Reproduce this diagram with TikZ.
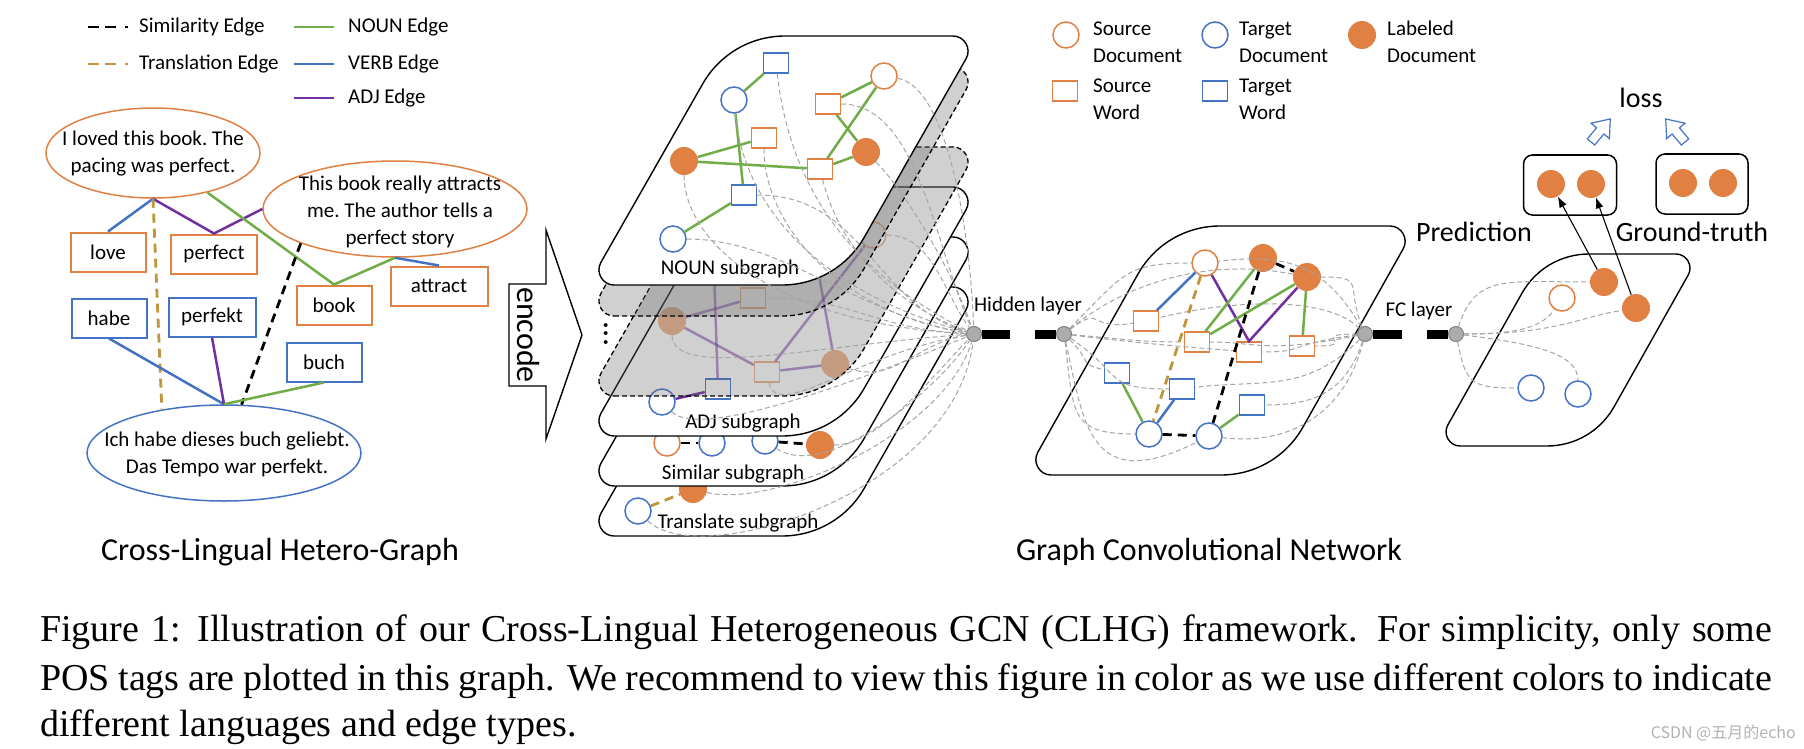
\documentclass[tikz,border=0pt]{standalone}
\usepackage{fontspec}
\setmainfont{Carlito}
\newfontfamily\capfont{Liberation Serif}
\newfontfamily\cjkfont{Noto Sans CJK SC}
\usetikzlibrary{shapes.geometric,arrows.meta,calc}
\definecolor{cor}{RGB}{224,128,66}
\definecolor{cbl}{RGB}{68,114,196}
\definecolor{cgr}{RGB}{112,173,71}
\definecolor{cpu}{RGB}{112,48,160}
\definecolor{cgo}{RGB}{191,150,60}
\definecolor{cgd}{RGB}{165,165,165}
% style, x of bottom-left, y bottom, width, height, shift, obtuse tangent length, acute tangent length
\newcommand\plt[8]{%
 \coordinate (pBL) at (#2,#3);
 \coordinate (pBR) at (#2+#4,#3);
 \coordinate (pTR) at (#2+#4+#6,#3-#5);
 \coordinate (pTL) at (#2+#6,#3-#5);
 \coordinate (a1) at ($(pBL)!#8!(pBR)$);
 \coordinate (a2) at ($(pBR)!#7!(pBL)$);
 \coordinate (a3) at ($(pBR)!#7!(pTR)$);
 \coordinate (a4) at ($(pTR)!#8!(pBR)$);
 \coordinate (a5) at ($(pTR)!#8!(pTL)$);
 \coordinate (a6) at ($(pTL)!#7!(pTR)$);
 \coordinate (a7) at ($(pTL)!#7!(pBL)$);
 \coordinate (a8) at ($(pBL)!#8!(pTL)$);
 \path[#1] (a1) -- (a2) .. controls ($(a2)!0.62!(pBR)$) and ($(a3)!0.62!(pBR)$) .. (a3)
   -- (a4) .. controls ($(a4)!0.44!(pTR)$) and ($(a5)!0.44!(pTR)$) .. (a5)
   -- (a6) .. controls ($(a6)!0.62!(pTL)$) and ($(a7)!0.62!(pTL)$) .. (a7)
   -- (a8) .. controls ($(a8)!0.44!(pBL)$) and ($(a1)!0.44!(pBL)$) .. (a1) -- cycle;}
\tikzset{
 x=1pt, y=-1pt,
 txt/.style={font=\fontsize{21}{27}\selectfont\frenchspacing, inner sep=0pt, align=center},
 big/.style={font=\fontsize{32}{36}\selectfont, inner sep=0pt},
 mid/.style={font=\fontsize{28}{32}\selectfont, inner sep=0pt},
 wbox/.style={draw, line width=2pt, minimum width=75pt, minimum height=39pt, inner sep=0pt, font=\fontsize{21}{25}\selectfont, fill=white},
 sbox/.style={wbox, draw=cor},
 tbox/.style={wbox, draw=cbl},
 ell/.style={ellipse, line width=1.5pt, inner sep=0pt},
 src/.style={circle, draw=cor, line width=1.5pt, fill=white, minimum size=26pt, inner sep=0pt},
 tgt/.style={src, draw=cbl},
 lab/.style={circle, fill=cor, minimum size=28pt, inner sep=0pt},
 sw/.style={rectangle, draw=cor, line width=1.5pt, fill=white, minimum width=25pt, minimum height=20pt, inner sep=0pt},
 tw/.style={sw, draw=cbl},
 eg/.style={cgr, line width=2.5pt},
 eb/.style={cbl, line width=2.5pt},
 ep/.style={cpu, line width=2.5pt},
 esim/.style={black, line width=2.8pt, dash pattern=on 9pt off 6pt},
 etr/.style={cgo, line width=2.8pt, dash pattern=on 9pt off 6pt},
 gd/.style={cgd, line width=1pt, dash pattern=on 5pt off 3pt},
 plate/.style={draw=black, line width=1.4pt, fill=white},
 gplate/.style={draw=black, line width=1.3pt, dash pattern=on 5pt off 3pt, fill=black!60, fill opacity=0.3},
 hn/.style={circle, fill=gray!65, draw=gray, line width=1pt, minimum size=15pt, inner sep=0pt},
 bar/.style={line width=9pt, black},
 fade/.style={opacity=0.6},
}
\begin{document}
\begin{tikzpicture}
\useasboundingbox (0,0) rectangle (1804,749);
\fill[white] (0,0) rectangle (1804,749);

% ---------- left legend ----------
\coordinate (l1a) at (88,27); \coordinate (l1b) at (129,27);
\coordinate (l2a) at (88,64); \coordinate (l2b) at (129,64);
\coordinate (l3a) at (294,27); \coordinate (l3b) at (334,27);
\coordinate (l4a) at (294,64); \coordinate (l4b) at (334,64);
\coordinate (l5a) at (294,98); \coordinate (l5b) at (334,98);
\draw[esim, dash pattern=on 11pt off 6pt on 11pt off 9pt on 3pt off 2pt] (l1a) -- (l1b);
\draw[etr, dash pattern=on 11pt off 6pt on 11pt off 9pt on 3pt off 2pt] (l2a) -- (l2b);
\draw[eg] (l3a) -- (l3b);
\draw[eb] (l4a) -- (l4b);
\draw[ep] (l5a) -- (l5b);
\node[txt, anchor=west] (lt1) at (139,27) {Similarity Edge};
\node[txt, anchor=west] (lt2) at (139,64) {Translation Edge};
\node[txt, anchor=west] (lt3) at (348,27) {NOUN Edge};
\node[txt, anchor=west] (lt4) at (348,64) {VERB Edge};
\node[txt, anchor=west] (lt5) at (348,98) {ADJ Edge};

% ---------- cross-lingual hetero-graph ----------
\node[ell, draw=cor, minimum width=214pt, minimum height=90pt] (e1) at (153,153) {};
\node[ell, draw=cor, minimum width=264pt, minimum height=96pt] (e2) at (395,209) {};
\node[ell, draw=cbl, minimum width=274pt, minimum height=96pt] (e3) at (224,453) {};
\node[sbox] (love) at (108,252) {love};
\node[sbox, minimum width=86pt] (perfect) at (214,254) {perfect};
\node[tbox] (habe) at (109,318) {habe};
\node[tbox, minimum width=87pt] (perfekt) at (212,317) {perfekt};
\node[sbox] (book) at (334,305) {book};
\node[sbox, minimum width=97pt] (attract) at (439,286) {attract};
\node[tbox] (buch) at (324,362) {buch};
\draw[eb] (e1.south) -- (love.north);
\draw[ep] (e1.south) -- (perfect.north) -- (e2.west);
\draw[eg] (e1.-36) -- (book.north) -- (e2.south);
\draw[eb] (e2.south) -- (attract.north);
\draw[etr] (e1.south) -- (e3.145);
\draw[esim] (e2.200) -- (e3.70);
\draw[eb] (habe.south) -- (e3.north);
\draw[ep] (perfekt.south) -- (e3.north);
\draw[eg] (e3.north) -- (buch.south);
\node[txt] (t1) at (153,154) {I loved this book. The\\pacing was perfect.};
\node[txt] (t2) at (400,212) {This book really attracts\\me. The author tells a\\perfect story};
\node[txt] (t3) at (227,454) {Ich habe dieses buch geliebt.\\Das Tempo war perfekt.};
\node[big] (title1) at (280,552) {Cross-Lingual Hetero-Graph};

% ---------- encode arrow ----------
\draw[line width=1.4pt, fill=white] (509,284) -- (546,284) -- (546,230) -- (582,335) -- (546,439) -- (546,386) -- (509,386) -- cycle;
\node[big, rotate=-90] (enc) at (528,335) {encode};

% ---------- stacked subgraphs ----------
% Translate
\plt{plate}{588}{536}{249}{249}{142}{55pt}{26pt}
\node[lab] (tl) at (693,489) {};
\node[tgt] (tc) at (638,511) {};
\draw[etr] (tc) -- (tl);
\node[txt] (tlab) at (738,523) {Translate subgraph};
% Similar
\plt{plate}{588}{486}{249}{249}{142}{55pt}{26pt}
\node[src] (so) at (667,443) {};
\node[tgt] (sc1) at (712,443) {};
\node[tgt] (sc2) at (765,441) {};
\node[lab] (sl) at (820,445) {};
\draw[esim] (so) -- (sc1);
\draw[esim] (sc2) -- (sl);
\node[txt] (slab) at (733,474) {Similar subgraph};
% ADJ
\plt{plate}{588}{436}{249}{249}{142}{55pt}{26pt}
\coordinate (av1) at (714,270);
\coordinate (av2) at (818,270);
\node[lab, fade] (al1) at (672,321) {};
\node[sw, fade] (as1) at (753,298) {};
\node[sw, fade] (as2) at (767,372) {};
\node[lab, fade] (al2) at (835,364) {};
\node[src, fade] (ao1) at (873,235) {};
\node[tw] (ab1) at (718,389) {};
\node[tgt] (ac1) at (662,402) {};
\draw[ep, opacity=0.55] (al1) -- (as1);
\draw[ep, opacity=0.55] (al1) -- (as2);
\draw[ep, opacity=0.55] (as2) -- (al2);
\draw[ep, opacity=0.55] (as2) -- (ao1);
\draw[ep, opacity=0.55] (av1) -- (ab1);
\draw[ep, opacity=0.55] (av2) -- (al2);
\draw[ep] (ac1) -- (ab1);
\node[txt] (alab) at (743,423) {ADJ subgraph};
% gray "..." layers
\plt{gplate}{588}{396}{249}{249}{142}{55pt}{26pt}
\plt{gplate}{588}{316}{249}{249}{142}{55pt}{26pt}
\node[big, rotate=-90] (dots) at (606,334) {...};
% NOUN
\plt{plate}{588}{285}{249}{249}{142}{55pt}{26pt}
\node[tw] (nb1) at (776,63) {};
\node[tgt] (nc1) at (734,100) {};
\node[src] (no1) at (884,76) {};
\node[sw] (ns1) at (828,104) {};
\node[sw] (ns2) at (764,138) {};
\node[lab] (nl1) at (684,161) {};
\node[lab] (nl2) at (866,152) {};
\node[sw] (ns3) at (820,169) {};
\node[tw] (nb2) at (744,195) {};
\node[tgt] (nc2) at (673,239) {};
\draw[eg] (nb1) -- (nc1);
\draw[eg] (nc1) -- (nb2);
\draw[eg] (no1) -- (ns1);
\draw[eg] (no1) -- (ns3);
\draw[eg] (ns1) -- (nl2);
\draw[eg] (nl2) -- (ns3);
\draw[eg] (nl1) -- (ns2);
\draw[eg] (nl1) -- (ns3);
\draw[eg] (nc2) -- (nb2);
\node[txt] (nlab) at (730,269) {NOUN subgraph};

% ---------- hidden layer ----------
\node[hn] (hid) at (974,334) {};
\node[hn] (hid2) at (1064,334) {};
\coordinate (hb1) at (1010,334);
\coordinate (hb2) at (1035,334);
\draw[bar] (hid.east) -- (hb1);
\draw[bar] (hb2) -- (hid2.west);
\node[txt] (hlab) at (1028,306) {Hidden layer};

\draw[gd] (nb1) .. controls +(15,130) and +(-120,-60) .. (hid);
\draw[gd] (nc1) .. controls +(10,110) and +(-150,-40) .. (hid);
\draw[gd] (no1) .. controls +(60,10) and +(-5,-120) .. (hid);
\draw[gd] (ns1) .. controls +(90,0) and +(-40,-90) .. (hid);
\draw[gd] (ns2) .. controls +(0,90) and +(-130,-20) .. (hid);
\draw[gd] (nl1) .. controls +(0,80) and +(-200,-10) .. (hid);
\draw[gd] (nl2) .. controls +(40,40) and +(-20,-60) .. (hid);
\draw[gd] (ns3) .. controls +(20,80) and +(-80,-30) .. (hid);
\draw[gd] (nb2) .. controls +(120,0) and +(-100,-30) .. (hid);
\draw[gd] (nc2) .. controls +(110,0) and +(-120,-20) .. (hid);
\draw[gd] (al1) .. controls +(0,60) and +(-150,10) .. (hid);
\draw[gd] (as1) .. controls +(100,0) and +(-100,-5) .. (hid);
\draw[gd] (al2) .. controls +(60,20) and +(-60,10) .. (hid);
\draw[gd] (ao1) .. controls +(60,0) and +(-30,-40) .. (hid);
\draw[gd] (as2) .. controls +(10,50) and +(-120,20) .. (hid);
\draw[gd] (ac1) .. controls +(40,40) and +(-100,40) .. (hid);
\draw[gd] (sl) .. controls +(60,0) and +(-40,40) .. (hid);
\draw[gd] (sc2) .. controls +(60,40) and +(-40,60) .. (hid);
\draw[gd] (tc) .. controls +(60,60) and +(-20,160) .. (hid);
\draw[gd] (tl) .. controls +(80,20) and +(-30,100) .. (hid);

% ---------- GCN ----------
\plt{plate}{1025}{475}{251}{249}{140}{55pt}{26pt}
\node[src] (go1) at (1205,263) {};
\node[lab] (gl1) at (1263,258) {};
\node[lab] (gl2) at (1307,277) {};
\node[sw] (gs1) at (1146,321) {};
\node[sw] (gs2) at (1197,342) {};
\node[sw] (gs3) at (1249,352) {};
\node[sw] (gs4) at (1302,346) {};
\node[tw] (gb1) at (1117,373) {};
\node[tw] (gb2) at (1182,389) {};
\node[tw] (gb3) at (1252,405) {};
\node[tgt] (gc1) at (1149,434) {};
\node[tgt] (gc2) at (1209,436) {};
\node[hn] (fc1) at (1365,334) {};
\node[hn] (fc2) at (1456,334) {};
\coordinate (fb1) at (1402,334);
\coordinate (fb2) at (1427,334);
\draw[bar] (fc1.east) -- (fb1);
\draw[bar] (fb2) -- (fc2.west);
\node[txt] (fclab) at (1419,311) {FC layer};

\draw[gd] (hid2) .. controls +(60,-60) and +(-80,0) .. (go1);
\draw[gd] (hid2) .. controls +(40,-30) and +(-60,10) .. (gs1);
\draw[gd] (hid2) .. controls +(60,5) and +(-60,0) .. (gs2);
\draw[gd] (hid2) .. controls +(80,10) and +(-60,-5) .. (gs3);
\draw[gd] (hid2) .. controls +(30,30) and +(-40,-10) .. (gb1);
\draw[gd] (hid2) .. controls +(60,40) and +(-80,0) .. (gb2);
\draw[gd] (hid2) .. controls +(10,80) and +(-80,0) .. (gc1);
\draw[gd] (hid2) .. controls +(20,90) and +(-120,60) .. (gc2);
\draw[gd] (hid2) .. controls +(60,-50) and +(-100,-20) .. (gl2);
\draw[gd] (fc1) .. controls +(-20,-50) and +(60,0) .. (gl2);
\draw[gd] (fc1) .. controls +(-40,-70) and +(80,-10) .. (go1);
\draw[gd] (fc1) .. controls +(-60,0) and +(60,0) .. (gs4);
\draw[gd] (fc1) .. controls +(-80,10) and +(60,0) .. (gs3);
\draw[gd] (fc1) .. controls +(-100,20) and +(60,0) .. (gs2);
\draw[gd] (fc1) .. controls +(-20,60) and +(60,0) .. (gb3);
\draw[gd] (fc1) .. controls +(-20,80) and +(80,10) .. (gc2);
\draw[gd] (fc1) .. controls +(-60,60) and +(80,-10) .. (gb2);
\draw[gd] (fc1) .. controls +(-40,-40) and +(80,-20) .. (gs1);

\draw[eb] (go1) -- (gs1);
\draw[etr] (go1) -- (gc1);
\draw[ep] (go1) -- (gs3.north) -- (gl2);
\draw[eg] (gl1) -- (gs2);
\draw[eg] (gl2) -- (gs2);
\draw[eg] (gl2) -- (gs4);
\draw[esim] (gl1) -- (gl2);
\draw[esim] (gl1) -- (gc2);
\draw[esim] (gc1) -- (gc2);
\draw[eg] (gb1) -- (gc1);
\draw[eb] (gc1) -- (gb2);
\draw[eg] (gc2) -- (gb3);
\node[big] (title2) at (1209,552) {Graph Convolutional Network};

% ---------- output ----------
\plt{plate}{1436}{446}{156}{192}{108}{45pt}{24pt}
\node[lab] (ol1) at (1604,282) {};
\node[lab] (ol2) at (1636,308) {};
\node[src] (oo) at (1562,298) {};
\node[tgt] (oc1) at (1531,388) {};
\node[tgt] (oc2) at (1578,394) {};
\draw[gd] (fc2) .. controls +(20,-60) and +(-100,0) .. (ol1);
\draw[gd] (fc2) .. controls +(60,0) and +(-20,30) .. (oo);
\draw[gd] (fc2) .. controls +(100,0) and +(-60,10) .. (ol2);
\draw[gd] (fc2) .. controls +(10,50) and +(-60,0) .. (oc1);
\draw[gd] (fc2) .. controls +(80,10) and +(0,-40) .. (oc2);

\node[draw, line width=1.5pt, rounded corners=9pt, minimum width=93pt, minimum height=60pt] (pbox) at (1570,185) {};
\node[draw, line width=1.5pt, rounded corners=9pt, minimum width=92pt, minimum height=60pt] (gbox) at (1702,184) {};
\node[lab] (pl1) at (1551,184) {};
\node[lab] (pl2) at (1591,184) {};
\node[lab] (gt1) at (1683,183) {};
\node[lab] (gt2) at (1723,183) {};
\draw[line width=1.1pt, -{Latex[length=11pt,width=8pt]}] (ol1) -- (pl1);
\draw[line width=1.1pt, -{Latex[length=11pt,width=8pt]}] (ol2) -- (pl2);
\node[mid] (pred) at (1474,232) {Prediction};
\node[mid] (gtl) at (1692,232) {Ground-truth};
\node[mid] (loss) at (1641,98) {loss};
\begin{scope}[shift={(1601,130)}, rotate=-40, scale=1.2]
\draw[cbl, line width=1.2pt, fill=white] (-4,13) -- (4,13) -- (4,1) -- (10,1) -- (0,-12) -- (-10,1) -- (-4,1) -- cycle;
\end{scope}
\begin{scope}[shift={(1675,130)}, rotate=40, scale=1.2]
\draw[cbl, line width=1.2pt, fill=white] (-4,13) -- (4,13) -- (4,1) -- (10,1) -- (0,-12) -- (-10,1) -- (-4,1) -- cycle;
\end{scope}

% ---------- right legend ----------
\node[src] (lg1) at (1066,35) {};
\node[tgt] (lg2) at (1215,35) {};
\node[lab] (lg3) at (1362,35) {};
\node[sw] (lg4) at (1065,91) {};
\node[tw] (lg5) at (1215,91) {};
\node[txt, anchor=west, align=left] (lgt1) at (1093,42) {Source\\Document};
\node[txt, anchor=west, align=left] (lgt2) at (1239,42) {Target\\Document};
\node[txt, anchor=west, align=left] (lgt3) at (1387,42) {Labeled\\Document};
\node[txt, anchor=west, align=left] (lgt4) at (1093,99) {Source\\Word};
\node[txt, anchor=west, align=left] (lgt5) at (1239,99) {Target\\Word};

% ---------- caption ----------
\node[anchor=base west, inner sep=0pt] (cap1) at (40,641) {\capfont\fontsize{38}{42}\selectfont\makebox[1732pt][s]{Figure 1: Illustration of our Cross-Lingual Heterogeneous GCN (CLHG) framework. For simplicity, only some}};
\node[anchor=base west, inner sep=0pt] (cap2) at (40,690) {\capfont\fontsize{38}{42}\selectfont\makebox[1732pt][s]{POS tags are plotted in this graph. We recommend to view this figure in color as we use different colors to indicate}};
\node[anchor=base west, inner sep=0pt] (cap3) at (40,736) {\capfont\fontsize{38}{42}\selectfont different languages and edge types.};
\node[anchor=base east, inner sep=0pt, text=black!30] (wm) at (1796,738) {\cjkfont\fontsize{16}{18}\selectfont CSDN @五月的echo};
\end{tikzpicture}
\end{document}
